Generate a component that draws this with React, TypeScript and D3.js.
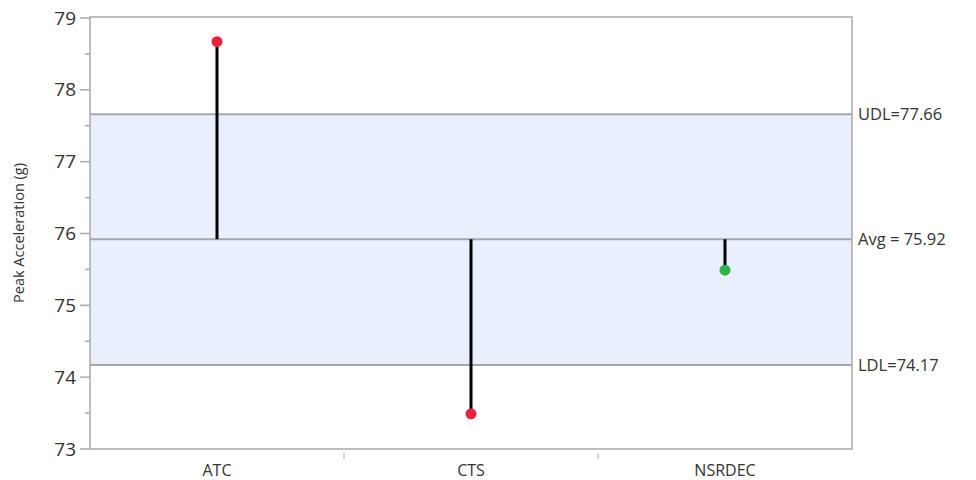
import { useEffect } from "react";
import * as d3 from "d3";

const categories = ["ATC", "CTS", "NSRDEC"];
const peakValues = [78.67, 73.49, 75.49];
const pointColors = ["#e8233f", "#e8233f", "#2db34a"];
const yTicks = [73, 74, 75, 76, 77, 78, 79];
const yMinorTicks = [73.5, 74.5, 75.5, 76.5, 77.5, 78.5];
const avg = 75.92;
const udl = 77.66;
const ldl = 74.17;

const WIDTH = 976;
const HEIGHT = 480;
const margin = { top: 17, right: 124, bottom: 31, left: 90 };
const FONT = "'Open Sans', 'Noto Sans', sans-serif";

export default function App() {
  useEffect(() => {
    document.body.style.margin = "0";
  }, []);

  const x = d3
    .scaleBand()
    .domain(categories)
    .range([margin.left, WIDTH - margin.right]);

  const y = d3
    .scaleLinear()
    .domain([73, 79])
    .range([HEIGHT - margin.bottom, margin.top + 1]);

  const left = margin.left;
  const right = WIDTH - margin.right;
  const top = margin.top;
  const bottom = HEIGHT - margin.bottom;
  const gridColor = "#a3a7b0";

  const limits = [
    { v: udl, label: "UDL=77.66" },
    { v: avg, label: "Avg = 75.92" },
    { v: ldl, label: "LDL=74.17" },
  ];

  // boundaries between categories on the x axis
  const dividers = categories.slice(1).map((c) => x(c) as number);

  return (
    <svg width={WIDTH} height={HEIGHT} style={{ display: "block" }}>
      <rect x={0} y={0} width={WIDTH} height={HEIGHT} fill="#fff" />

      {/* decision band */}
      <rect
        x={left}
        y={y(udl)}
        width={right - left}
        height={y(ldl) - y(udl)}
        fill="#e9effd"
      />

      {limits.map((l) => (
        <g key={l.label}>
          <line
            x1={left}
            x2={right}
            y1={y(l.v)}
            y2={y(l.v)}
            stroke={gridColor}
            strokeWidth={2}
          />
          <text
            x={right + 6}
            y={y(l.v)}
            dy="0.35em"
            fontFamily={FONT}
            fontSize={16.5}
            fill="#333"
          >
            {l.label}
          </text>
        </g>
      ))}

      {/* frame */}
      <rect
        x={left}
        y={top}
        width={right - left}
        height={bottom - top}
        fill="none"
        stroke="#a9a9a9"
        strokeWidth={1.5}
      />

      {/* y axis ticks */}
      {yTicks.map((t) => (
        <g key={t}>
          <line x1={left - 10} x2={left} y1={y(t)} y2={y(t)} stroke="#a9a9a9" strokeWidth={1.5} />
          <text
            x={left - 14}
            y={y(t)}
            dy="0.35em"
            textAnchor="end"
            fontFamily={FONT}
            fontSize={19}
            fill="#333"
          >
            {t}
          </text>
        </g>
      ))}
      {yMinorTicks.map((t) => (
        <line key={t} x1={left - 5} x2={left} y1={y(t)} y2={y(t)} stroke="#a9a9a9" strokeWidth={1.5} />
      ))}

      <text
        transform={`translate(24,${(top + bottom) / 2}) rotate(-90)`}
        textAnchor="middle"
        fontFamily={FONT}
        fontSize={14.5}
        fill="#333"
      >
        Peak Acceleration (g)
      </text>

      {/* x axis */}
      {dividers.map((d, i) => (
        <line key={i} x1={d} x2={d} y1={bottom + 4} y2={bottom + 10} stroke="#a9a9a9" strokeWidth={1} />
      ))}
      {categories.map((c) => (
        <text
          key={c}
          x={(x(c) as number) + x.bandwidth() / 2}
          y={bottom + 27}
          textAnchor="middle"
          fontFamily={FONT}
          fontSize={16}
          fill="#333"
        >
          {c}
        </text>
      ))}

      {/* stems and points */}
      {categories.map((c, i) => {
        const cx = (x(c) as number) + x.bandwidth() / 2;
        return (
          <g key={c}>
            <line
              x1={cx}
              x2={cx}
              y1={y(avg)}
              y2={y(peakValues[i])}
              stroke="#000"
              strokeWidth={3}
            />
            <circle cx={cx} cy={y(peakValues[i])} r={5.5} fill={pointColors[i]} />
          </g>
        );
      })}
    </svg>
  );
}
